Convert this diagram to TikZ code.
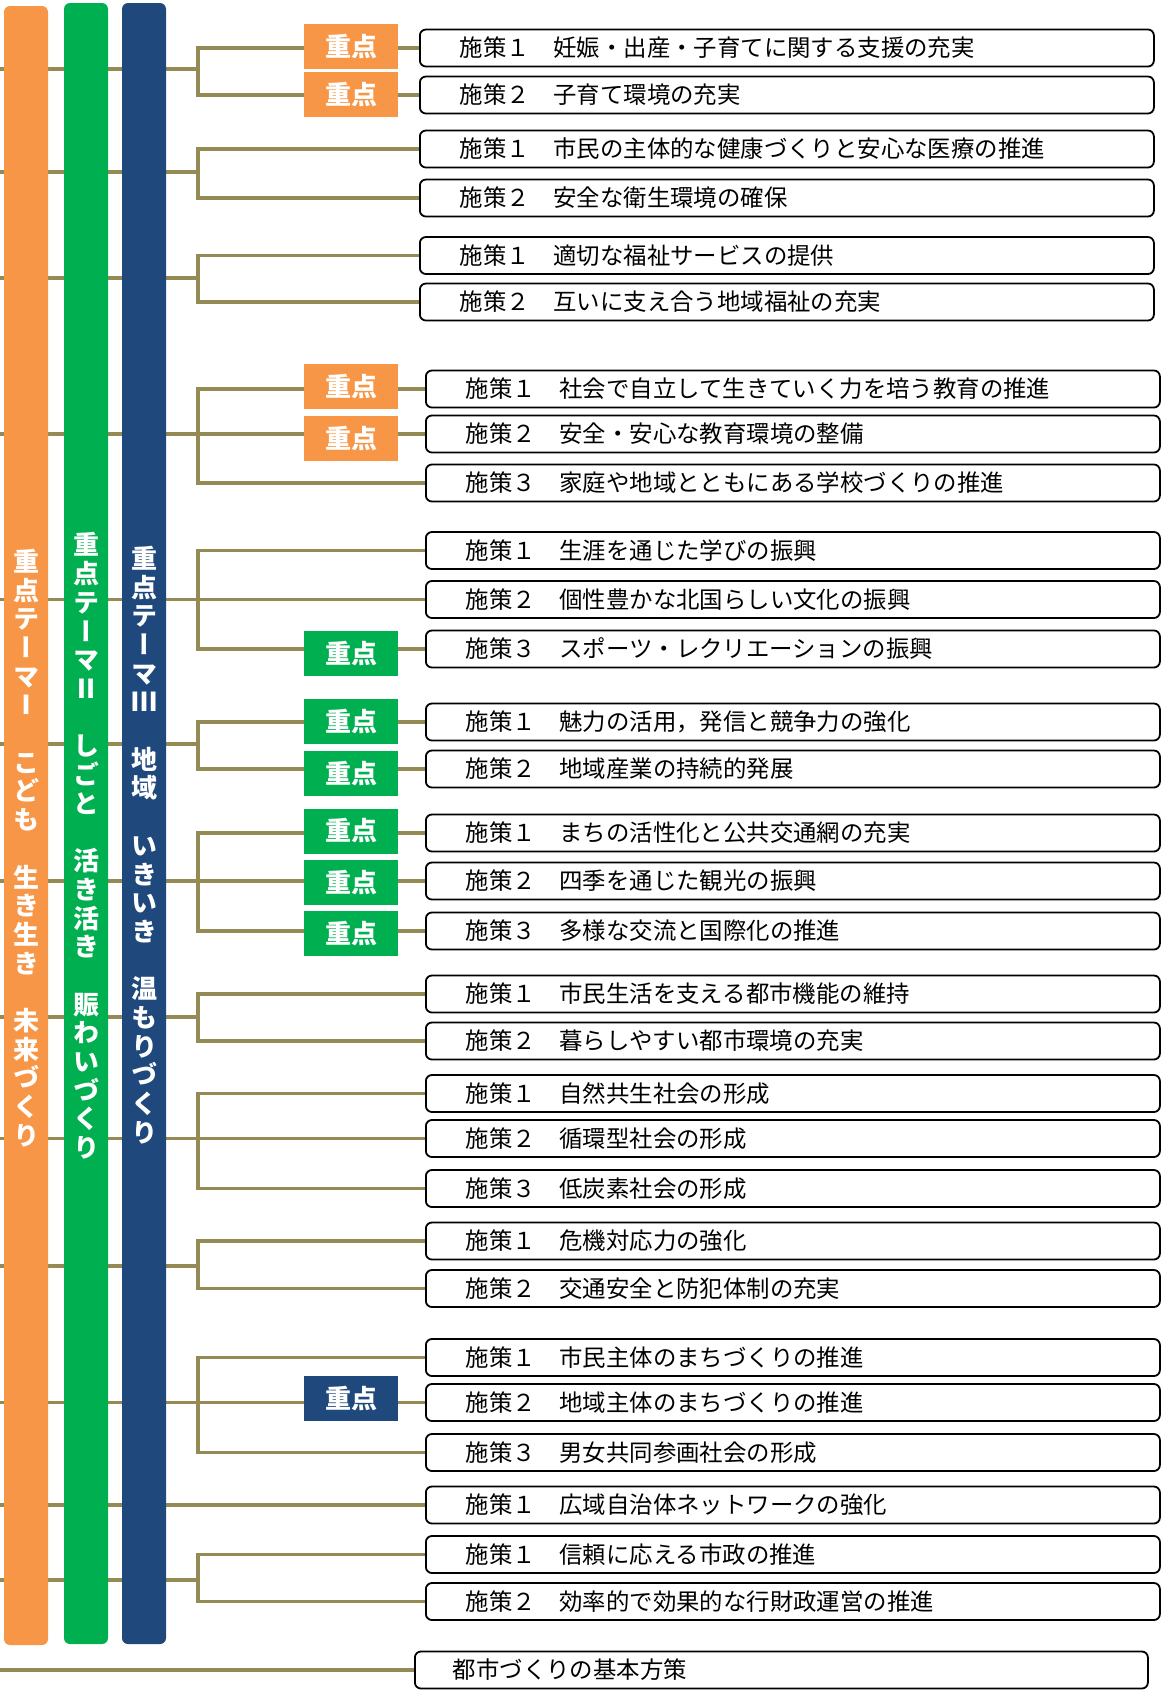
\documentclass[tikz,border=0pt]{standalone}
\usepackage{fontspec}
\usetikzlibrary{backgrounds}
\newfontfamily\jpfont{Noto Sans CJK JP}
\newfontfamily\jpvfont[RawFeature=+vert]{Noto Sans CJK JP}
\definecolor{lineol}{HTML}{948A54}
\definecolor{torange}{HTML}{F79646}
\definecolor{tgreen}{HTML}{00B050}
\definecolor{tnavy}{HTML}{1F497D}
\newcommand{\uprnum}[1]{{\jpfont\bfseries #1}}
\begin{document}
\begin{tikzpicture}[x=1pt,y=-1pt,
  conn/.style={draw=lineol,line width=3.6pt,line cap=rect},
  policy/.style={draw=black,line width=1.8pt,rounded corners=6pt,fill=white,anchor=west,
    minimum height=37pt,inner ysep=0pt,inner xsep=40pt,text width=654pt,align=left,
    font=\jpfont\fontsize{23.4}{28}\selectfont},
  basebox/.style={policy,inner xsep=38pt,text width=657pt},
  juten/.style={minimum width=94pt,minimum height=45pt,inner sep=0pt,text=white,
    font=\jpfont\bfseries\fontsize{26}{30}\selectfont},
  jor/.style={juten,fill=torange},
  jgr/.style={juten,fill=tgreen},
  jnv/.style={juten,fill=tnavy},
  bartext/.style={text=white,align=center,inner sep=0pt,
    font=\jpvfont\bfseries\fontsize{26}{28.7}\selectfont}
]
\useasboundingbox (0,0) rectangle (1160,1690);

% ---------- policy boxes ----------
\node[policy] (p11) at (419,48) {施策１　妊娠・出産・子育てに関する支援の充実};
\node[policy] (p12) at (419,95) {施策２　子育て環境の充実};
\node[policy] (p21) at (419,149) {施策１　市民の主体的な健康づくりと安心な医療の推進};
\node[policy] (p22) at (419,198) {施策２　安全な衛生環境の確保};
\node[policy] (p31) at (419,255.5) {施策１　適切な福祉サービスの提供};
\node[policy] (p32) at (419,302) {施策２　互いに支え合う地域福祉の充実};
\node[policy] (p41) at (425,389) {施策１　社会で自立して生きていく力を培う教育の推進};
\node[policy] (p42) at (425,434) {施策２　安全・安心な教育環境の整備};
\node[policy] (p43) at (425,483) {施策３　家庭や地域とともにある学校づくりの推進};
\node[policy] (p51) at (425,550.5) {施策１　生涯を通じた学びの振興};
\node[policy] (p52) at (425,599.5) {施策２　個性豊かな北国らしい文化の振興};
\node[policy] (p53) at (425,649) {施策３　スポーツ・レクリエーションの振興};
\node[policy] (p61) at (425,722) {施策１　魅力の活用，発信と競争力の強化};
\node[policy] (p62) at (425,769) {施策２　地域産業の持続的発展};
\node[policy] (p71) at (425,833) {施策１　まちの活性化と公共交通網の充実};
\node[policy] (p72) at (425,881) {施策２　四季を通じた観光の振興};
\node[policy] (p73) at (425,931) {施策３　多様な交流と国際化の推進};
\node[policy] (p81) at (425,994) {施策１　市民生活を支える都市機能の維持};
\node[policy] (p82) at (425,1041) {施策２　暮らしやすい都市環境の充実};
\node[policy] (p91) at (425,1093.5) {施策１　自然共生社会の形成};
\node[policy] (p92) at (425,1138.5) {施策２　循環型社会の形成};
\node[policy] (p93) at (425,1188.5) {施策３　低炭素社会の形成};
\node[policy] (pa1) at (425,1241) {施策１　危機対応力の強化};
\node[policy] (pa2) at (425,1288.5) {施策２　交通安全と防犯体制の充実};
\node[policy] (pb1) at (425,1357.5) {施策１　市民主体のまちづくりの推進};
\node[policy] (pb2) at (425,1402.5) {施策２　地域主体のまちづくりの推進};
\node[policy] (pb3) at (425,1452.5) {施策３　男女共同参画社会の形成};
\node[policy] (pc1) at (425,1505) {施策１　広域自治体ネットワークの強化};
\node[policy] (pd1) at (425,1554.5) {施策１　信頼に応える市政の推進};
\node[policy] (pd2) at (425,1601.5) {施策２　効率的で効果的な行財政運営の推進};
\node[basebox] (base) at (414,1670) {都市づくりの基本方策};

% ---------- 重点 labels ----------
\node[jor] (k11) at (351,46.5) {重点};
\node[jor] (k12) at (351,94.5) {重点};
\node[jor] (k41) at (351,386.5) {重点};
\node[jor] (k42) at (351,438.5) {重点};
\node[jgr] (k53) at (351,653.5) {重点};
\node[jgr] (k61) at (351,721.5) {重点};
\node[jgr] (k62) at (351,773.5) {重点};
\node[jgr] (k71) at (351,831) {重点};
\node[jgr] (k72) at (351,882.5) {重点};
\node[jgr] (k73) at (351,933.5) {重点};
\node[jnv] (kb2) at (351,1398.5) {重点};

% ---------- junction coordinates ----------
\coordinate (s1) at (0,69);    \coordinate (j1) at (198,69);
\coordinate (s2) at (0,172);   \coordinate (j2) at (198,172);
\coordinate (s3) at (0,278);   \coordinate (j3) at (198,278);
\coordinate (s4) at (0,434);   \coordinate (j4) at (198,434);
\coordinate (s5) at (0,599.5); \coordinate (j5) at (198,599.5);
\coordinate (s6) at (0,744);   \coordinate (j6) at (198,744);
\coordinate (s7) at (0,881);   \coordinate (j7) at (198,881);
\coordinate (s8) at (0,1017);  \coordinate (j8) at (198,1017);
\coordinate (s9) at (0,1138.5);\coordinate (j9) at (198,1138.5);
\coordinate (sa) at (0,1266);  \coordinate (ja) at (198,1266);
\coordinate (sb) at (0,1402.5);\coordinate (jb) at (198,1402.5);
\coordinate (sc) at (0,1505);
\coordinate (sd) at (0,1580);  \coordinate (jd) at (198,1580);
\coordinate (se) at (0,1670);

\begin{scope}[on background layer]
  % connectors
  \draw[conn] (s1) -- (j1); \draw[conn] (p11.west) -| (j1); \draw[conn] (p12.west) -| (j1);
  \draw[conn] (s2) -- (j2); \draw[conn] (p21.west) -| (j2); \draw[conn] (p22.west) -| (j2);
  \draw[conn] (s3) -- (j3); \draw[conn] (p31.west) -| (j3); \draw[conn] (p32.west) -| (j3);
  \draw[conn] (s4) -- (j4); \draw[conn] (p41.west) -| (j4); \draw[conn] (p42.west) -| (j4); \draw[conn] (p43.west) -| (j4);
  \draw[conn] (s5) -- (j5); \draw[conn] (p51.west) -| (j5); \draw[conn] (p52.west) -| (j5); \draw[conn] (p53.west) -| (j5);
  \draw[conn] (s6) -- (j6); \draw[conn] (p61.west) -| (j6); \draw[conn] (p62.west) -| (j6);
  \draw[conn] (s7) -- (j7); \draw[conn] (p71.west) -| (j7); \draw[conn] (p72.west) -| (j7); \draw[conn] (p73.west) -| (j7);
  \draw[conn] (s8) -- (j8); \draw[conn] (p81.west) -| (j8); \draw[conn] (p82.west) -| (j8);
  \draw[conn] (s9) -- (j9); \draw[conn] (p91.west) -| (j9); \draw[conn] (p92.west) -| (j9); \draw[conn] (p93.west) -| (j9);
  \draw[conn] (sa) -- (ja); \draw[conn] (pa1.west) -| (ja); \draw[conn] (pa2.west) -| (ja);
  \draw[conn] (sb) -- (jb); \draw[conn] (pb1.west) -| (jb); \draw[conn] (pb2.west) -| (jb); \draw[conn] (pb3.west) -| (jb);
  \draw[conn] (sc) -- (pc1.west);
  \draw[conn] (sd) -- (jd); \draw[conn] (pd1.west) -| (jd); \draw[conn] (pd2.west) -| (jd);
  \draw[conn] (se) -- (base.west);
  % theme bars
  \fill[torange,rounded corners=6pt] (4,6) rectangle (48,1645);
  \fill[tgreen,rounded corners=6pt] (64,3) rectangle (108,1644);
  \fill[tnavy,rounded corners=6pt] (122,3) rectangle (166,1644);
\end{scope}

% ---------- theme texts ----------
\node[bartext] (themeI) at (26,848) {重\\点\\テ\\ー\\マ\\\uprnum{Ⅰ}\\\phantom{重}\\こ\\ど\\も\\\phantom{重}\\生\\き\\生\\き\\\phantom{重}\\未\\来\\づ\\く\\り};
\node[bartext] (themeII) at (86,846) {重\\点\\テ\\ー\\マ\\\uprnum{Ⅱ}\\\phantom{重}\\し\\ご\\と\\\phantom{重}\\活\\き\\活\\き\\\phantom{重}\\賑\\わ\\い\\づ\\く\\り};
\node[bartext] (themeIII) at (144,845) {重\\点\\テ\\ー\\マ\\\uprnum{Ⅲ}\\\phantom{重}\\地\\域\\\phantom{重}\\い\\き\\い\\き\\\phantom{重}\\温\\も\\り\\づ\\く\\り};
\end{tikzpicture}
\end{document}
